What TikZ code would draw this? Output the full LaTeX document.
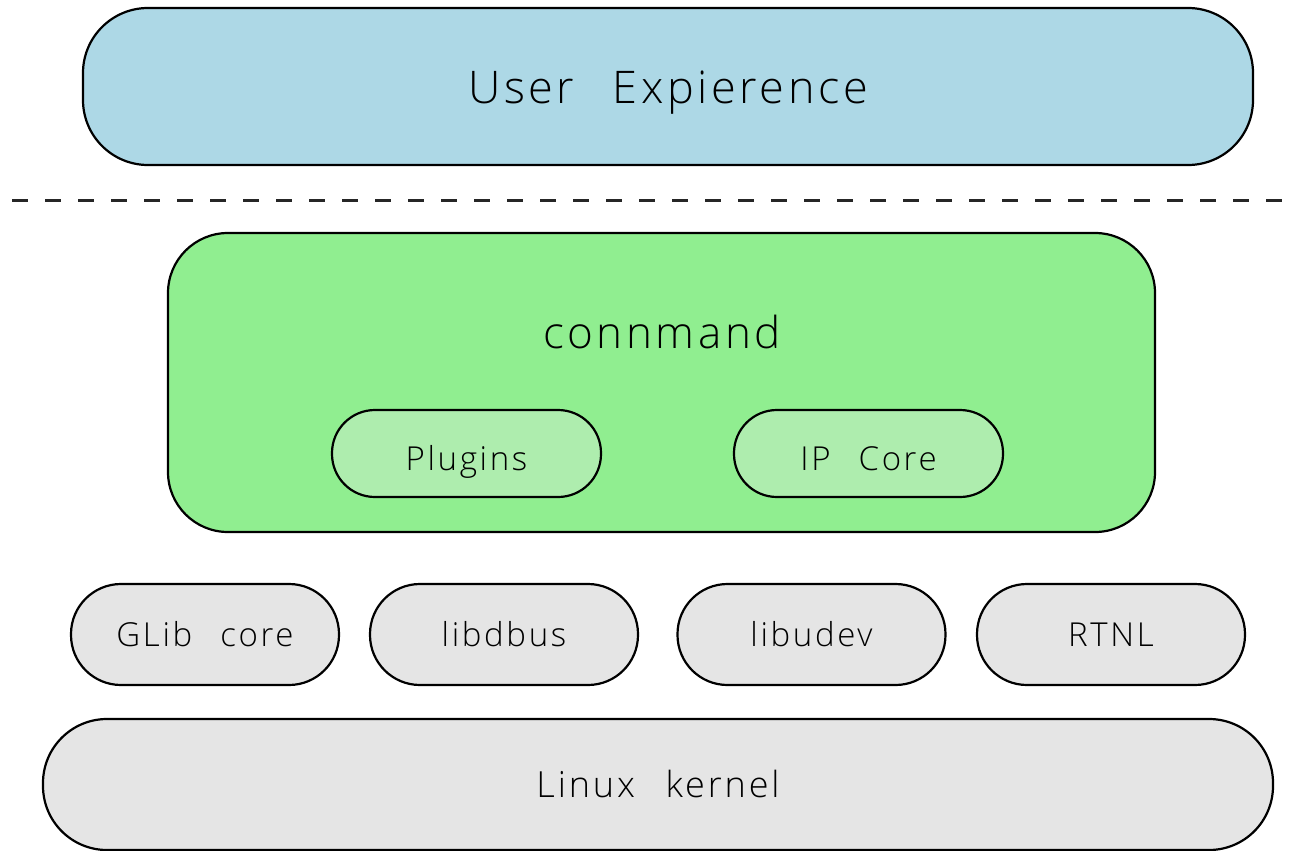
\documentclass[tikz,border=0pt]{standalone}
\usepackage{fontspec}
\setmainfont{Open Sans Light}[LetterSpace=8,WordSpace=2.5]
\definecolor{uxblue}{HTML}{ADD8E6}
\definecolor{cmgreen}{HTML}{90EE90}
\definecolor{subgreen}{HTML}{AEEDAE}
\definecolor{libgray}{HTML}{E5E5E5}
\begin{document}
\begin{tikzpicture}[x=1pt,y=-1pt,
  box/.style={draw=black, line width=2.2pt, inner sep=0pt, text=black},
  smalltext/.style={font=\fontsize{33}{38}\selectfont},
  pill/.style={box, minimum width=268pt, minimum height=101pt, rounded corners=50pt, fill=libgray, smalltext, text height=23pt, text depth=0pt},
  subpill/.style={box, minimum width=269pt, minimum height=87pt, rounded corners=43pt, fill=subgreen, smalltext, text height=33pt, text depth=0pt}]
\useasboundingbox (0,0) rectangle (1293,851);
\node[box, fill=uxblue, minimum width=1170pt, minimum height=157pt, rounded corners=65pt, font=\fontsize{45}{52}\selectfont, text height=33pt, text depth=0pt] (ux) at (668,86.5) {User Expierence};
\coordinate (dl) at (12,200);
\coordinate (dr) at (1293,200);
\draw[dash pattern=on 16pt off 17pt, line width=3pt, black!85] (dl) -- (dr);
\node[box, fill=cmgreen, minimum width=987pt, minimum height=299pt, rounded corners=60pt] (cm) at (661.5,382.5) {};
\node[anchor=base, inner sep=0pt, font=\fontsize{44}{50}\selectfont] (cmlabel) at (662,348) {connmand};
\node[subpill] (plugins) at (466.5,453.5) {Plugins};
\node[subpill] (ipcore) at (868.5,453.5) {IP Core};
\node[pill] (glib) at (205,634.5) {GLib core};
\node[pill] (dbus) at (504,634.5) {libdbus};
\node[pill] (udev) at (811.5,634.5) {libudev};
\node[pill] (rtnl) at (1111,634.5) {RTNL};
\node[box, fill=libgray, minimum width=1230pt, minimum height=131pt, rounded corners=64pt, font=\fontsize{36}{42}\selectfont, text height=25pt, text depth=0pt] (kernel) at (658,784.5) {Linux kernel};
\end{tikzpicture}
\end{document}
